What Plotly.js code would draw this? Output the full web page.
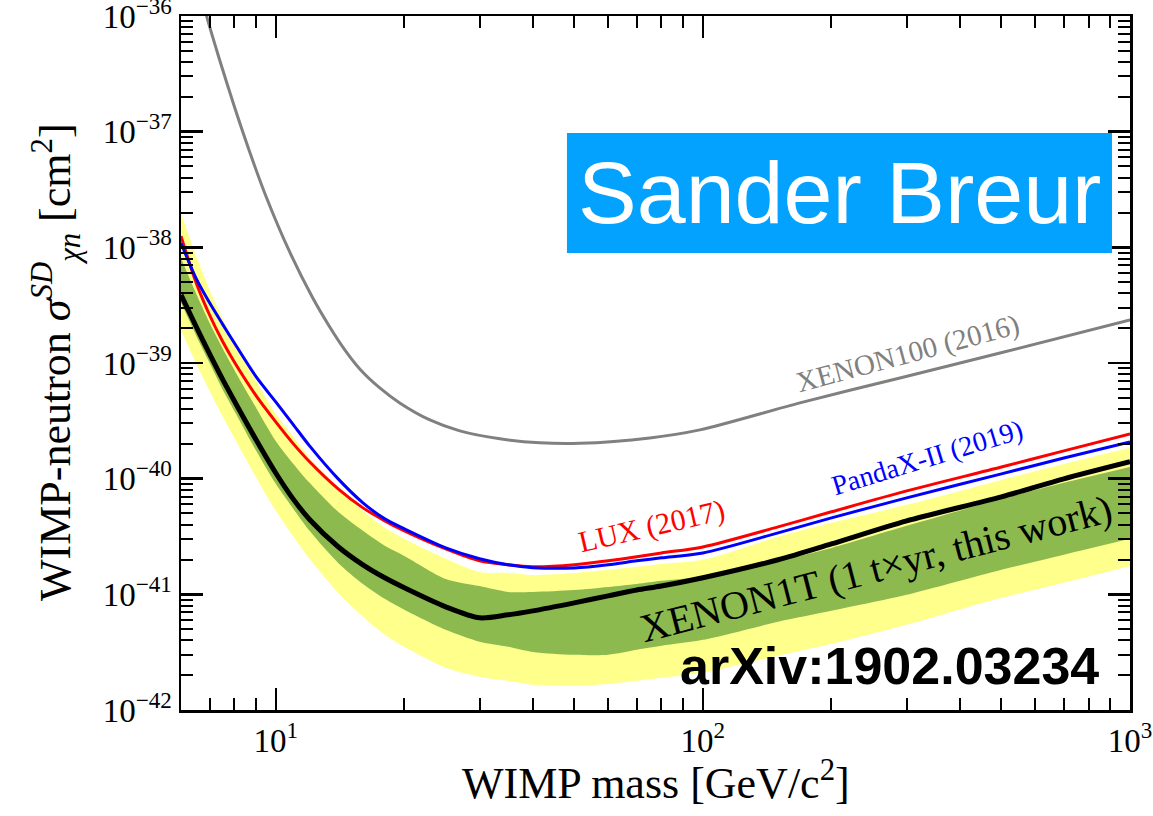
<!DOCTYPE html>
<html><head><meta charset="utf-8">
<script src="https://cdn.plot.ly/plotly-3.0.1.min.js"></script>
<style>html,body{margin:0;padding:0;background:#fff}</style>
</head><body><div id="chart" style="width:1153px;height:816px"></div>
<script>
// WIMP mass grid [GeV/c^2]
const mass = [6, 6.5, 7, 7.5, 8, 9, 10, 11, 12, 14, 16, 18, 20, 25, 30, 35, 40, 50, 60, 70, 80, 100, 150, 200, 300, 500, 700, 1000];
// cross sections [cm^2]
const luxSigma = [1.25e-38, 5.02e-39, 2.60e-39, 1.55e-39, 1.02e-39, 5.20e-40, 3.10e-40, 2.00e-40, 1.40e-40, 8.16e-41, 5.59e-41, 4.32e-41, 3.54e-41, 2.47e-41, 1.95e-41, 1.80e-41, 1.73e-41, 1.80e-41, 1.95e-41, 2.11e-41, 2.28e-41, 2.57e-41, 3.83e-41, 5.17e-41, 7.84e-41, 1.26e-40, 1.74e-40, 2.44e-40];
const pandaxSigma = [1.09e-38, 5.44e-39, 3.31e-39, 2.18e-39, 1.49e-39, 7.58e-40, 4.61e-40, 2.92e-40, 1.92e-40, 9.96e-41, 6.18e-41, 4.49e-41, 3.68e-41, 2.52e-41, 2.03e-41, 1.80e-41, 1.70e-41, 1.69e-41, 1.80e-41, 1.95e-41, 2.07e-41, 2.28e-41, 3.40e-41, 4.58e-41, 6.82e-41, 1.10e-40, 1.51e-40, 2.08e-40];
const xenon1tSigma = [3.88e-39, 2.09e-39, 1.20e-39, 7.29e-40, 4.70e-40, 2.16e-40, 1.12e-40, 6.62e-41, 4.44e-41, 2.58e-41, 1.80e-41, 1.39e-41, 1.14e-41, 7.80e-42, 6.26e-42, 6.65e-42, 7.20e-42, 8.44e-42, 9.70e-42, 1.09e-41, 1.18e-41, 1.39e-41, 1.99e-41, 2.73e-41, 4.32e-41, 6.96e-41, 9.96e-41, 1.40e-40];
const band2Upper = [1.98e-38, 8.60e-39, 4.28e-39, 2.45e-39, 1.52e-39, 7.00e-40, 3.63e-40, 2.30e-40, 1.51e-40, 8.33e-41, 5.27e-41, 3.76e-41, 3.02e-41, 2.03e-41, 1.56e-41, 1.53e-41, 1.47e-41, 1.53e-41, 1.63e-41, 1.73e-41, 1.83e-41, 1.99e-41, 3.14e-41, 4.15e-41, 5.94e-41, 9.76e-41, 1.34e-40, 1.85e-40];
const band1Upper = [8.10e-39, 4.04e-39, 2.22e-39, 1.35e-39, 8.72e-40, 4.09e-40, 2.12e-40, 1.34e-40, 9.20e-41, 5.17e-41, 3.54e-41, 2.63e-41, 2.15e-41, 1.36e-41, 1.18e-41, 1.05e-41, 1.05e-41, 1.09e-41, 1.16e-41, 1.23e-41, 1.31e-41, 1.42e-41, 1.95e-41, 2.52e-41, 3.91e-41, 6.69e-41, 9.20e-41, 1.26e-40];
const band1Lower = [3.31e-39, 1.75e-39, 1.00e-39, 5.97e-40, 3.85e-40, 1.74e-40, 9.02e-41, 5.48e-41, 3.54e-41, 1.87e-41, 1.23e-41, 9.14e-42, 7.35e-42, 4.93e-42, 3.89e-42, 3.52e-42, 3.18e-42, 3.00e-42, 3.00e-42, 3.31e-42, 3.59e-42, 4.04e-42, 5.79e-42, 7.20e-42, 9.90e-42, 1.63e-41, 2.20e-41, 3.02e-41];
const band2Lower = [1.93e-39, 1.00e-39, 5.74e-40, 3.49e-40, 2.25e-40, 1.02e-40, 5.27e-41, 3.14e-41, 2.03e-41, 1.03e-41, 6.39e-42, 4.47e-42, 3.52e-42, 2.32e-42, 1.94e-42, 1.79e-42, 1.65e-42, 1.62e-42, 1.68e-42, 1.79e-42, 1.90e-42, 2.10e-42, 2.94e-42, 3.73e-42, 5.45e-42, 9.33e-42, 1.26e-41, 1.76e-41];
const xenon100Mass = [6.8, 6.89, 7.39, 8.02, 8.69, 9.48, 10.78, 12.21, 13.38, 14.51, 15.73, 17.52, 19.51, 22.95, 26.97, 33.47, 41.53, 51.5, 75.1, 98.4, 168.7, 289.3, 496.2, 1000];
const xenon100Sigma = [1.3e-36, 1.0e-36, 4.17e-37, 1.60e-37, 6.67e-38, 2.78e-38, 9.12e-39, 3.65e-39, 2.05e-39, 1.30e-39, 8.89e-40, 6.09e-40, 4.52e-40, 3.22e-40, 2.59e-40, 2.21e-40, 2.04e-40, 2.02e-40, 2.25e-40, 2.64e-40, 4.52e-40, 7.43e-40, 1.22e-39, 2.36e-39];
// tick labels
const xTickVals = [10, 100, 1000];
const xTickText = ['10<sup>1</sup>', '10<sup>2</sup>', '10<sup>3</sup>'];
const yTickVals = [1e-42, 1e-41, 1e-40, 1e-39, 1e-38, 1e-37, 1e-36];
const yTickText = ['10<sup>−42</sup>', '10<sup>−41</sup>', '10<sup>−40</sup>', '10<sup>−39</sup>', '10<sup>−38</sup>', '10<sup>−37</sup>', '10<sup>−36</sup>'];
const labels = {
  xTitle: 'WIMP mass [GeV/c<sup>2</sup>]',
  yTitle: 'WIMP-neutron <i>σ</i><sup><i>SD</i></sup><sub><i>χn</i></sub> [cm<sup>2</sup>]',
  lux: 'LUX (2017)', pandax: 'PandaX-II (2019)', xenon100: 'XENON100 (2016)',
  xenon1t: 'XENON1T (1 t×yr, this work)', arxiv: 'arXiv:1902.03234', author: 'Sander Breur'
};

const serif = 'Liberation Serif, serif';
const sans = 'Liberation Sans, Arial, sans-serif';
const sp = {shape: 'spline', smoothing: 0.8};
const noLine = {width: 0, color: 'rgba(0,0,0,0)'};
const traces = [
  {x: mass, y: band2Lower, mode: 'lines', line: Object.assign({}, noLine, sp), hoverinfo: 'skip', showlegend: false},
  {x: mass, y: band2Upper, mode: 'lines', line: Object.assign({}, noLine, sp), fill: 'tonexty', fillcolor: '#ffff8c', hoverinfo: 'skip', showlegend: false},
  {x: mass, y: band1Lower, mode: 'lines', line: Object.assign({}, noLine, sp), hoverinfo: 'skip', showlegend: false},
  {x: mass, y: band1Upper, mode: 'lines', line: Object.assign({}, noLine, sp), fill: 'tonexty', fillcolor: '#8cba4f', hoverinfo: 'skip', showlegend: false},
  {x: xenon100Mass, y: xenon100Sigma, mode: 'lines', line: Object.assign({width: 3, color: '#808080'}, sp), showlegend: false},
  {x: mass, y: luxSigma, mode: 'lines', line: Object.assign({width: 3, color: '#ff0000'}, sp), showlegend: false},
  {x: mass, y: pandaxSigma, mode: 'lines', line: Object.assign({width: 3, color: '#0000ff'}, sp), showlegend: false},
  {x: mass, y: xenon1tSigma, mode: 'lines', line: Object.assign({width: 5, color: '#000000'}, sp), showlegend: false}
];

function axis(extra) {
  return Object.assign({
    type: 'log', showline: true, linecolor: '#000', linewidth: 2.5, mirror: 'allticks',
    ticks: 'inside', ticklen: 22, tickwidth: 2.5, tickcolor: '#000',
    showgrid: false, zeroline: false, tickmode: 'array', ticklabeloverflow: 'allow',
    tickfont: {family: serif, size: 33, color: '#000'},
    minor: {ticks: 'inside', ticklen: 12, tickwidth: 2, tickcolor: '#000', showgrid: false, dtick: 'D1'}
  }, extra);
}

const layout = {
  width: 1153, height: 816,
  margin: {l: 181, r: 23, t: 16, b: 106, pad: 0},
  paper_bgcolor: '#fff', plot_bgcolor: '#fff',
  showlegend: false,
  font: {family: serif},
  xaxis: axis({range: [Math.log10(6), 3], tickvals: xTickVals, ticktext: xTickText}),
  yaxis: axis({range: [-42, -36], tickvals: yTickVals, ticktext: yTickText}),
  shapes: [
    {type: 'rect', xref: 'paper', yref: 'paper', x0: 0.4067, x1: 0.9810, y0: 0.6585, y1: 0.8314, fillcolor: '#02a2fe', line: {width: 0}, layer: 'above'}
  ],
  annotations: [
    {xref: 'paper', yref: 'paper', x: 0.5005, y: -0.1009, xanchor: 'center', yanchor: 'middle', showarrow: false, text: labels.xTitle, font: {family: serif, size: 44, color: '#000'}},
    {xref: 'paper', yref: 'paper', x: -0.1317, y: 0.5014, xanchor: 'center', yanchor: 'middle', showarrow: false, textangle: -90, text: labels.yTitle, font: {family: serif, size: 44, color: '#000'}},
    {xref: 'paper', yref: 'paper', x: 0.6944, y: 0.745, xanchor: 'center', yanchor: 'middle', showarrow: false, text: labels.author, font: {family: sans, size: 88, color: '#fff'}},
    {xref: 'paper', yref: 'paper', x: 0.7471, y: 0.0634, xanchor: 'center', yanchor: 'middle', showarrow: false, text: labels.arxiv, font: {family: sans, size: 52, color: '#000', weight: 'bold'}},
    {xref: 'paper', yref: 'paper', x: 0.4963, y: 0.2650, xanchor: 'center', yanchor: 'middle', showarrow: false, textangle: -13, text: labels.lux, font: {family: serif, size: 30, color: '#ff0000'}},
    {xref: 'paper', yref: 'paper', x: 0.7861, y: 0.3640, xanchor: 'center', yanchor: 'middle', showarrow: false, textangle: -17, text: labels.pandax, font: {family: serif, size: 28, color: '#0000ff'}},
    {xref: 'paper', yref: 'paper', x: 0.7661, y: 0.5130, xanchor: 'center', yanchor: 'middle', showarrow: false, textangle: -15, text: labels.xenon100, font: {family: serif, size: 29, color: '#808080'}},
    {xref: 'paper', yref: 'paper', x: 0.7324, y: 0.2046, xanchor: 'center', yanchor: 'middle', showarrow: false, textangle: -14.5, text: labels.xenon1t, font: {family: serif, size: 40, color: '#000'}}
  ]
};

Plotly.newPlot('chart', traces, layout, {displayModeBar: false, staticPlot: true});
</script></body></html>
